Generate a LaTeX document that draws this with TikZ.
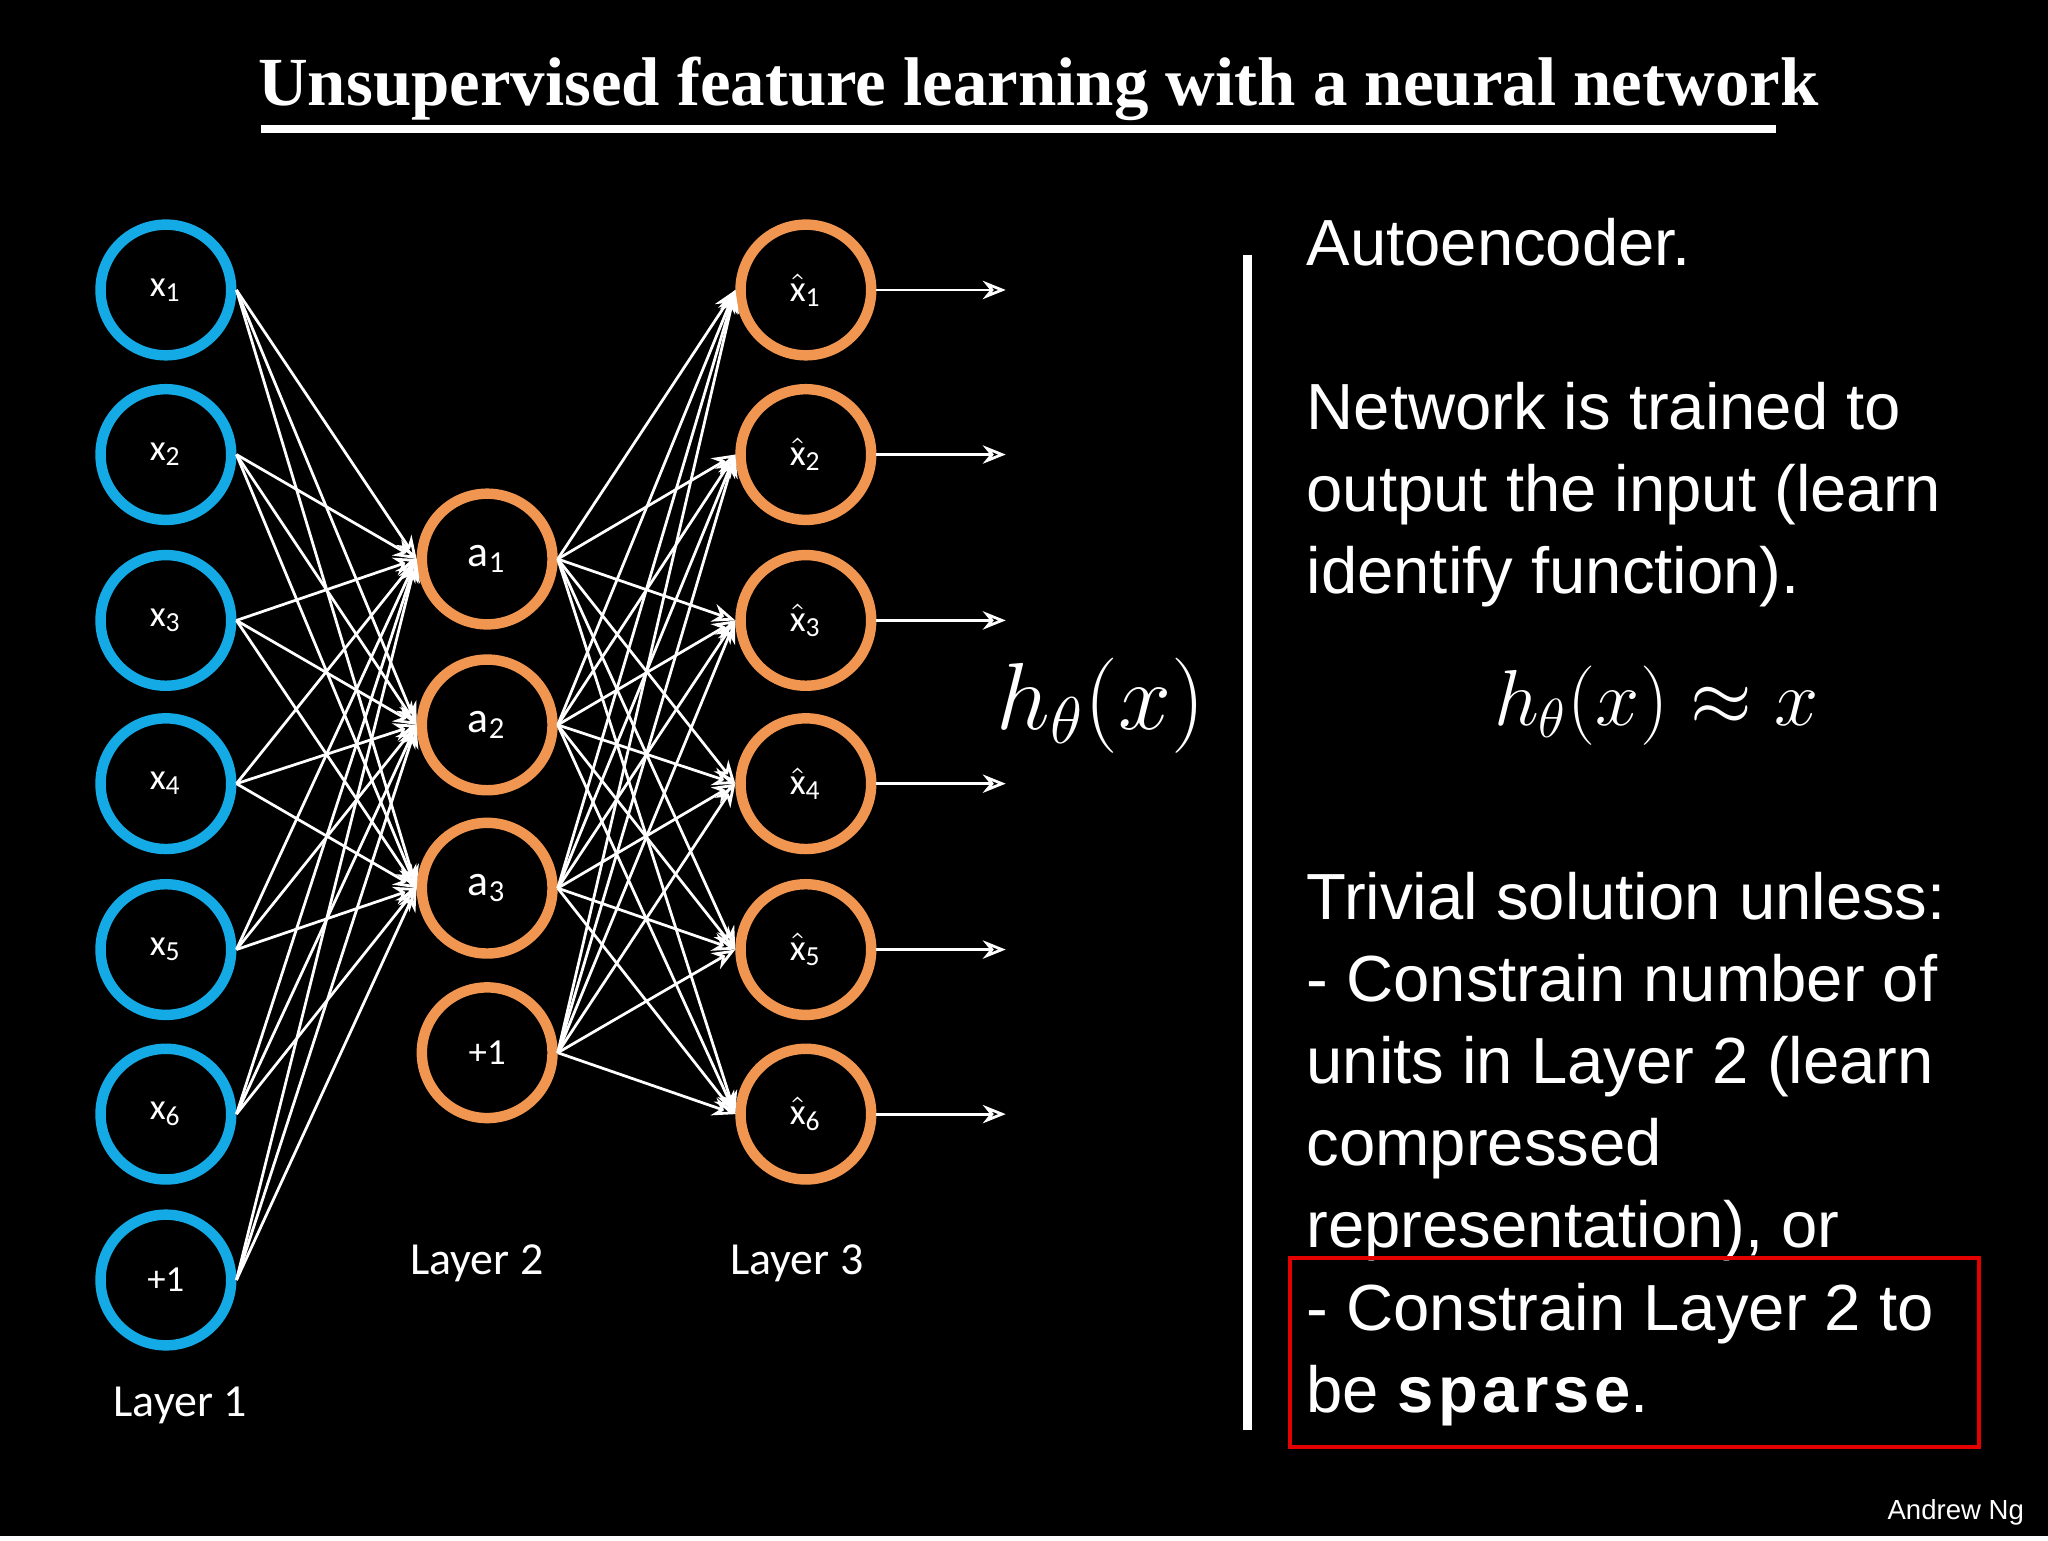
\documentclass[tikz,border=0pt]{standalone}
\usepackage{fontspec}
\setmainfont{Carlito}
\newfontfamily\arial{Liberation Sans}
\newfontfamily\tnrfont{Liberation Serif}
\usetikzlibrary{arrows.meta}
\begin{document}
\begin{tikzpicture}[x=0.01cm,y=-0.01cm,
  inn/.style={circle,line width=0.08cm,minimum size=1.0cm,text=white,font=\fontsize{8}{9}\selectfont},
  hid/.style={circle,line width=0.08cm,minimum size=1.0cm,text=white,font=\fontsize{9.5}{10}\selectfont},
  edge/.style={white,line width=0.6pt,-{Stealth[length=5pt,width=4pt,open]}},
  lab/.style={text=white,font=\fontsize{10}{11}\selectfont},
  body/.style={text=white,anchor=north west,align=left,font=\arial\fontsize{14.2}{17.9}\selectfont}]
\fill[black] (0,0) rectangle (1568,1176);
\definecolor{cy}{RGB}{20,170,230}
\definecolor{org}{RGB}{240,150,80}
\node[text=white,font=\tnrfont\bfseries\fontsize{15}{17}\selectfont] (t) at (795,68) {Unsupervised feature learning with a neural network};
\draw[white,line width=0.06cm] (200,99) -- (1360,99);
\foreach \i/\y in {1/222,2/348,3/475,4/600,5/727,6/853}
  \node[inn,draw=cy] (x\i) at (127,\y) {x\textsubscript{\i}};
\node[inn,draw=cy] (x7) at (127,980) {+1};
\foreach \i/\y in {1/428,2/555,3/680}
  \node[hid,draw=org] (a\i) at (373,\y) {a\textsubscript{\i}};
\node[hid,draw=org,font=\fontsize{8}{9}\selectfont] (a4) at (373,806) {+1};
\foreach \i/\y in {1/222,2/348,3/475,4/600,5/727,6/853}{
  \node[hid,draw=org,font=\fontsize{8}{9}\selectfont] (y\i) at (617,\y) {$\hat{\mbox{x}}$\textsubscript{\i}};
  \coordinate (o\i) at (770,\y);
  \draw[edge] (y\i) -- (o\i);}
\foreach \i in {1,...,7}\foreach \j in {1,2,3} \draw[edge] (x\i.east) -- (a\j.west);
\foreach \i in {1,...,4}\foreach \j in {1,...,6} \draw[edge] (a\i.east) -- (y\j.west);
\node[lab] (l1) at (138,1076) {Layer 1};
\node[lab] (l2) at (365,967) {Layer 2};
\node[lab] (l3) at (610,967) {Layer 3};
\node[text=white,font=\fontsize{21}{24}\selectfont] (h) at (843,540) {$h_\theta(x)$};
\draw[white,line width=0.07cm] (955,195) -- (955,1095);
\node[body] (b1) at (988,155) {Autoencoder.};
\node[body] (b2) at (988,280) {Network is trained to\\output the input (learn\\identify function).};
\node[text=white,font=\fontsize{18}{22}\selectfont] (f) at (1268,540) {$h_\theta(x) \approx x$};
\node[body] (b3) at (988,655) {Trivial solution unless:\\- Constrain number of\\units in Layer 2 (learn\\compressed\\representation), or\\- Constrain Layer 2 to\\be \textbf{s\kern1pt p\kern1pt a\kern1pt r\kern1pt s\kern1pt e}.};
\draw[red!90!black,line width=0.03cm] (988,963) rectangle (1515,1108);
\node[text=white,font=\arial\fontsize{6}{7}\selectfont,anchor=east] (ng) at (1562,1158) {Andrew Ng};
\end{tikzpicture}
\end{document}
